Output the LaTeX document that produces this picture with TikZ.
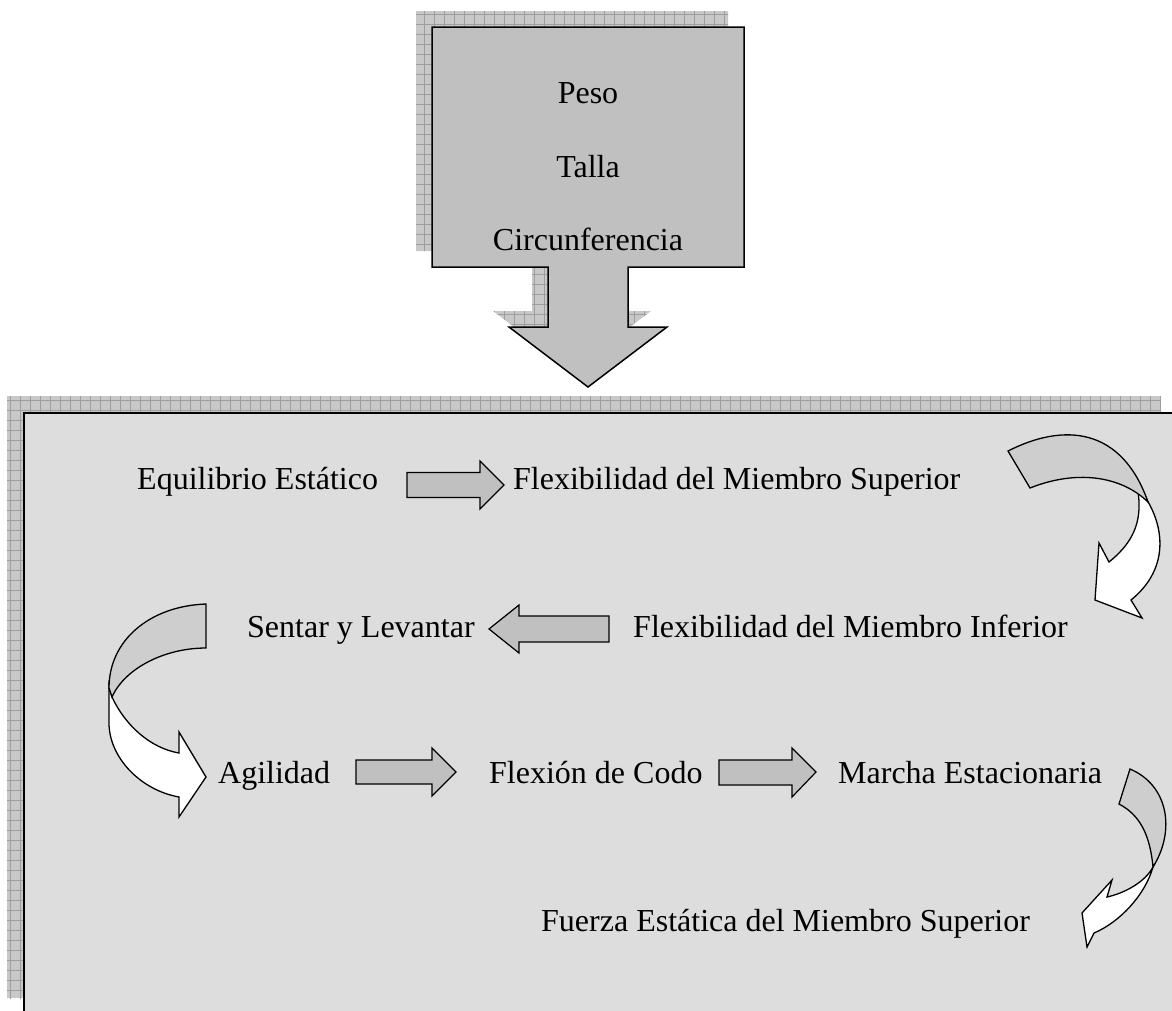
\documentclass[tikz,border=0pt]{standalone}
\usepackage{fontspec}
\setmainfont{Liberation Serif}
\definecolor{shadowgray}{RGB}{200,200,200}
\definecolor{gridgray}{RGB}{158,158,158}
\definecolor{boxgray}{RGB}{192,192,192}
\definecolor{panelgray}{RGB}{221,221,221}
\definecolor{curvegray}{RGB}{206,206,206}
\begin{document}
\begin{tikzpicture}[x=1pt,y=-1pt,
  lbl/.style={anchor=base west, inner sep=0pt, font=\fontsize{32}{38}\selectfont},
  toplbl/.style={anchor=base, inner sep=0pt, font=\fontsize{32}{38}\selectfont},
  shadowfill/.style={fill=shadowgray, path picture={
      \foreach \k in {0,10,...,1170}{\draw[gridgray, line width=0.7pt] (\k,0)--(\k,1010);}
      \foreach \k in {0,10,...,1010}{\draw[gridgray, line width=0.7pt] (0,\k)--(1172,\k);}}},
  blockarrow/.style={draw=black, fill=boxgray, line width=1.2pt, line join=miter},
  ribbon/.style={draw=black, line width=1.3pt, line join=miter},
]
\useasboundingbox (0,0) rectangle (1172,1010);
\clip (0,0) rectangle (1172,1010);

% --- top callout: shadow then shape
\path[shadowfill, shift={(-16,-16)}]
  (432,27) -- (744,27) -- (744,267) -- (628,267) -- (628,327) -- (667,327)
  -- (588,387) -- (509,327) -- (548,327) -- (548,267) -- (432,267) -- cycle;
\draw[fill=boxgray, line width=1.5pt, line join=miter]
  (432,27) -- (744,27) -- (744,267) -- (628,267) -- (628,327) -- (667,327)
  -- (588,387) -- (509,327) -- (548,327) -- (548,267) -- (432,267) -- cycle;
\node[toplbl] (peso) at (588,103) {Peso};
\node[toplbl] (talla) at (588,177) {Talla};
\node[toplbl] (circ) at (588,250) {Circunferencia};

% --- big panel
\path[shadowfill] (7,396) rectangle (1161,998);
\draw[fill=panelgray, line width=2pt] (24,413) rectangle (1190,1030);

% --- labels
\node[lbl] (equi) at (137,489) {Equilibrio Estático};
\node[lbl] (flexsup) at (513,489) {Flexibilidad del Miembro Superior};
\node[lbl] (sentar) at (247,637) {Sentar y Levantar};
\node[lbl] (flexinf) at (633,637) {Flexibilidad del Miembro Inferior};
\node[lbl] (agil) at (218,783) {Agilidad};
\node[lbl] (codo) at (489,783) {Flexión de Codo};
\node[lbl] (marcha) at (838,783) {Marcha Estacionaria};
\node[lbl] (fuerza) at (541,931) {Fuerza Estática del Miembro Superior};

% --- straight block arrows
\draw[blockarrow] (407,472.5) -- (480,472.5) -- (480,461) -- (504,485) -- (480,509) -- (480,497.5) -- (407,497.5) -- cycle;
\draw[blockarrow] (609,616) -- (519,616) -- (519,605) -- (489,629) -- (519,653) -- (519,642) -- (609,642) -- cycle;
\draw[blockarrow] (356,760) -- (432,760) -- (432,748) -- (456,772) -- (432,796) -- (432,784) -- (356,784) -- cycle;
\draw[blockarrow] (719,760) -- (792,760) -- (792,748) -- (816,772) -- (792,797) -- (792,785) -- (719,785) -- cycle;

% --- curved arrow 1 (top right)
\draw[ribbon, fill=white] (1138,492) .. controls (1143,525) and (1130,545) .. (1109,562)
  -- (1099,543) -- (1095,600) -- (1142,618) -- (1131,600)
  .. controls (1168,570) and (1165,530) .. (1147,500) -- cycle;
\draw[ribbon, fill=curvegray] (1008,451) .. controls (1065,422) and (1122,428) .. (1148,502)
  .. controls (1120,475) and (1075,470) .. (1030,488) -- cycle;

% --- curved arrow 2 (left)
\draw[ribbon, fill=white] (109,685) -- (109,723) .. controls (109,757) and (140,790) .. (179,797)
  -- (179,817) -- (206,777) -- (179,732) -- (179,753)
  .. controls (150,748) and (125,725) .. (112,697) -- cycle;
\draw[ribbon, fill=curvegray] (206,604) .. controls (150,606) and (109,640) .. (109,688)
  -- (112,697) .. controls (125,668) and (165,648) .. (206,648) -- cycle;

% --- curved arrow 3 (bottom right)
\draw[ribbon, fill=white] (1153,867) .. controls (1145,895) and (1120,922) .. (1094,933)
  -- (1087,947) -- (1082,913) -- (1112,880) -- (1107,897)
  .. controls (1125,893) and (1145,882) .. (1153,867) -- cycle;
\draw[ribbon, fill=curvegray] (1130,769) .. controls (1168,785) and (1176,830) .. (1153,867)
  .. controls (1150,835) and (1140,815) .. (1119,804) -- cycle;
\end{tikzpicture}
\end{document}
